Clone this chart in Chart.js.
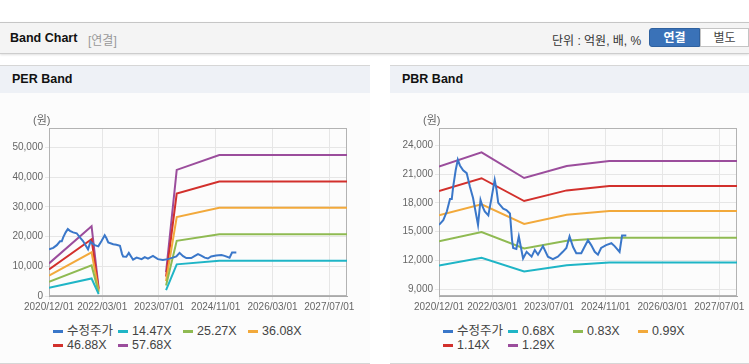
<!DOCTYPE html>
<html>
<head>
<meta charset="utf-8">
<script src="https://cdn.jsdelivr.net/npm/chart.js@4.4.1/dist/chart.umd.min.js"></script>
<style>
  body { margin: 0; width: 749px; height: 364px; position: relative; overflow: hidden; background: #fff;
         font-family: 'Liberation Sans', 'Noto Sans CJK KR', sans-serif; }
  .bar { position: absolute; left: 0; top: 22px; width: 749px; height: 30px; background: #f4f4f4;
         border-top: 1px solid #c6c6c6; border-bottom: 1px solid #cdcdcd; box-shadow: 0 1px 2px rgba(0,0,0,.12); }
  .bar .ttl { position: absolute; left: 10px; top: 8px; font-size: 12.5px; font-weight: bold; color: #111; }
  .bar .sub { position: absolute; left: 88px; top: 8px; font-size: 12px; color: #999; }
  .bar .unit { position: absolute; left: 552px; top: 8px; font-size: 12px; color: #333; }
  .btn { position: absolute; top: 5px; height: 19px; line-height: 19px; text-align: center; font-size: 12px; box-sizing: border-box; }
  .btn.on { left: 649px; width: 51px; background: #3a72b8; color: #fff; font-weight: bold; border-radius: 3px 0 0 3px; border: 1px solid #2f619f; }
  .btn.off { left: 700px; width: 49px; background: #fff; color: #444; border: 1px solid #c4c4c4; }
  .panel { position: absolute; top: 65px; height: 297px; background: #fcfcfc; border-top: 1px solid #d6d6d6; border-bottom: 1px solid #d6d6d6; }
  .panel .head { height: 27px; line-height: 27px; background: #eef1f6; padding-left: 12px; font-size: 12.5px; font-weight: bold; color: #111; }
  .panel canvas { position: absolute; left: 0; top: 44px; }
  .panel .unitlbl { position: absolute; left: 33px; top: 45px; font-size: 11px; color: #666; z-index: 2; }
  .legend { position: absolute; left: 53px; top: 258px; display: grid; grid-template-columns: repeat(4, 65px);
            font-size: 12.5px; line-height: 14px; color: #444; white-space: nowrap; }
  .legend i { display: inline-block; width: 10px; height: 3px; margin-right: 4px; vertical-align: middle; }
</style>
</head>
<body>
<div class="bar">
  <span class="ttl">Band Chart</span><span class="sub">[연결]</span>
  <span class="unit">단위 : 억원, 배, %</span>
  <span class="btn on">연결</span><span class="btn off">별도</span>
</div>

<div class="panel" style="left:0;width:370px">
  <div class="head">PER Band</div>
  <canvas id="per" width="370" height="208"></canvas>
  <div class="unitlbl">(원)</div>
  <div class="legend" id="perLegend"></div>
</div>

<div class="panel" style="left:390px;width:359px">
  <div class="head">PBR Band</div>
  <canvas id="pbr" width="359" height="208"></canvas>
  <div class="unitlbl">(원)</div>
  <div class="legend" id="pbrLegend"></div>
</div>

<script>
// x values are months since 2020/12/01
var tickLabels = ['2020/12/01', '2022/03/01', '2023/07/01', '2024/11/01', '2026/03/01', '2027/07/01'];
var perTicks = [0, 10000, 20000, 30000, 40000, 50000];
var pbrTicks = [9000, 12000, 15000, 18000, 21000, 24000];

var priceMonths = [0, 1.2, 2.2, 3.1, 3.6, 4.0, 4.7, 5.3, 5.9, 6.8, 7.8, 8.7, 9.6, 10.3, 11.0, 11.7, 12.3, 12.9, 13.9,
  14.8, 15.7, 16.2, 16.7, 18.1, 19.0, 20.0, 20.6, 20.9, 21.8, 22.5, 23.7, 24.7, 26.1, 27.0, 27.9, 29.3, 30.7, 32.1,
  33.5, 34.9, 35.9, 36.8, 37.8, 38.7, 40.1, 41.0, 42.0, 42.9, 43.9, 44.8, 45.7, 47.1, 48.6, 49.5, 50.9, 51.6, 52.8];
var price = [15700, 16200, 17100, 18400, 18400, 19700, 21400, 22500, 21900, 21400, 21100, 19700, 18500, 17100, 15700,
  18300, 17600, 17100, 16700, 18500, 20400, 19400, 18000, 17400, 17250, 16900, 14100, 13300, 13200, 14500, 12200,
  12900, 12400, 13100, 12600, 13500, 12400, 12150, 12400, 12900, 13300, 14500, 13400, 12750, 12750, 13400, 14100,
  13600, 12900, 12600, 13300, 13600, 13800, 13500, 12900, 14600, 14600];

// PER band (null = no data)
var perMonths = [0, 12, 14, 23, 33, 36, 48, 84];
var per1447 = [2750, 5890, 650, null, 2000, 10640, 11890, 11890];
var per2527 = [4800, 10290, 1140, null, 3500, 18570, 20770, 20770];
var per3608 = [6860, 14690, 1620, null, 5000, 26520, 29660, 29660];
var per4688 = [8910, 19080, 2110, null, 6500, 34460, 38530, 38530];
var per5768 = [10960, 23480, 2600, null, 8000, 42400, 47410, 47410];

// PBR band
var pbrMonths = [0, 12, 24, 36, 48, 84];
var pbr068 = [11480, 12270, 10850, 11510, 11780, 11780];
var pbr083 = [14010, 14970, 13250, 14050, 14380, 14380];
var pbr099 = [16710, 17860, 15800, 16760, 17160, 17160];
var pbr114 = [19240, 20570, 18190, 19300, 19760, 19760];
var pbr129 = [21780, 23270, 20590, 21840, 22360, 22360];

var colors = ['#3a77c9', '#1fb5c6', '#8fba52', '#f2a93b', '#d2302c', '#9b4d9c'];

function toMonth(s) {
  var p = s.split('/');
  return (+p[0] - 2020) * 12 + (+p[1] - 12);
}
var tickMonths = tickLabels.map(toMonth);

function pts(xs, ys) {
  return xs.map(function (x, i) { return { x: x, y: ys[i] }; });
}

function line(label, xs, ys, i) {
  return { label: label, data: pts(xs, ys), borderColor: colors[i], backgroundColor: colors[i],
           borderWidth: 2, pointRadius: 0, tension: 0, fill: false };
}

function fixTicks(values) {
  return function (scale) { scale.ticks = values.map(function (v) { return { value: v }; }); };
}

var frame = {
  id: 'frame',
  beforeDatasetsDraw: function (chart) {
    var a = chart.chartArea, ctx = chart.ctx;
    ctx.save();
    ctx.strokeStyle = '#b3b3b3';
    ctx.lineWidth = 1;
    ctx.strokeRect(a.left + 0.5, a.top + 0.5, a.right - a.left - 1, a.bottom - a.top - 1);
    ctx.restore();
  }
};

function makeChart(id, datasets, yMin, yMax, yTicks, padRight) {
  var font = { family: "'Liberation Sans', sans-serif", size: 10 };
  return new Chart(document.getElementById(id), {
    type: 'line',
    data: { datasets: datasets },
    options: {
      responsive: false,
      animation: false,
      layout: { padding: { top: 18, right: padRight, left: 0, bottom: 0 } },
      plugins: { legend: { display: false }, tooltip: { enabled: false } },
      scales: {
        x: {
          type: 'linear', min: 0, max: 84,
          afterBuildTicks: fixTicks(tickMonths),
          afterFit: function (scale) { scale.height = 22; },
          ticks: { autoSkip: false, maxRotation: 0, color: '#666', font: font, padding: 1,
                   callback: function (v, i) { return tickLabels[i]; } },
          grid: { color: '#e6e6e6', tickLength: 4 },
          border: { color: '#a9a9a9' }
        },
        y: {
          min: yMin, max: yMax,
          afterBuildTicks: fixTicks(yTicks),
          afterFit: function (scale) { scale.width = 49; },
          ticks: { color: '#666', font: font, padding: 2,
                   callback: function (v) { return v.toLocaleString('en-US'); } },
          grid: { color: '#e6e6e6', tickLength: 4 },
          border: { color: '#a9a9a9' }
        }
      }
    },
    plugins: [frame]
  });
}

function buildLegend(id, chart) {
  var el = document.getElementById(id);
  chart.data.datasets.forEach(function (ds) {
    var s = document.createElement('span');
    s.innerHTML = '<i style="background:' + ds.borderColor + '"></i>' + ds.label;
    el.appendChild(s);
  });
}

var perChart = makeChart('per', [
  line('수정주가', priceMonths, price, 0),
  line('14.47X', perMonths, per1447, 1),
  line('25.27X', perMonths, per2527, 2),
  line('36.08X', perMonths, per3608, 3),
  line('46.88X', perMonths, per4688, 4),
  line('57.68X', perMonths, per5768, 5)
], 0, 56500, perTicks, 23);
buildLegend('perLegend', perChart);

var pbrChart = makeChart('pbr', [
  line('수정주가', priceMonths, price, 0),
  line('0.68X', pbrMonths, pbr068, 1),
  line('0.83X', pbrMonths, pbr083, 2),
  line('0.99X', pbrMonths, pbr099, 3),
  line('1.14X', pbrMonths, pbr114, 4),
  line('1.29X', pbrMonths, pbr129, 5)
], 8300, 25800, pbrTicks, 12);
buildLegend('pbrLegend', pbrChart);
</script>
</body>
</html>
